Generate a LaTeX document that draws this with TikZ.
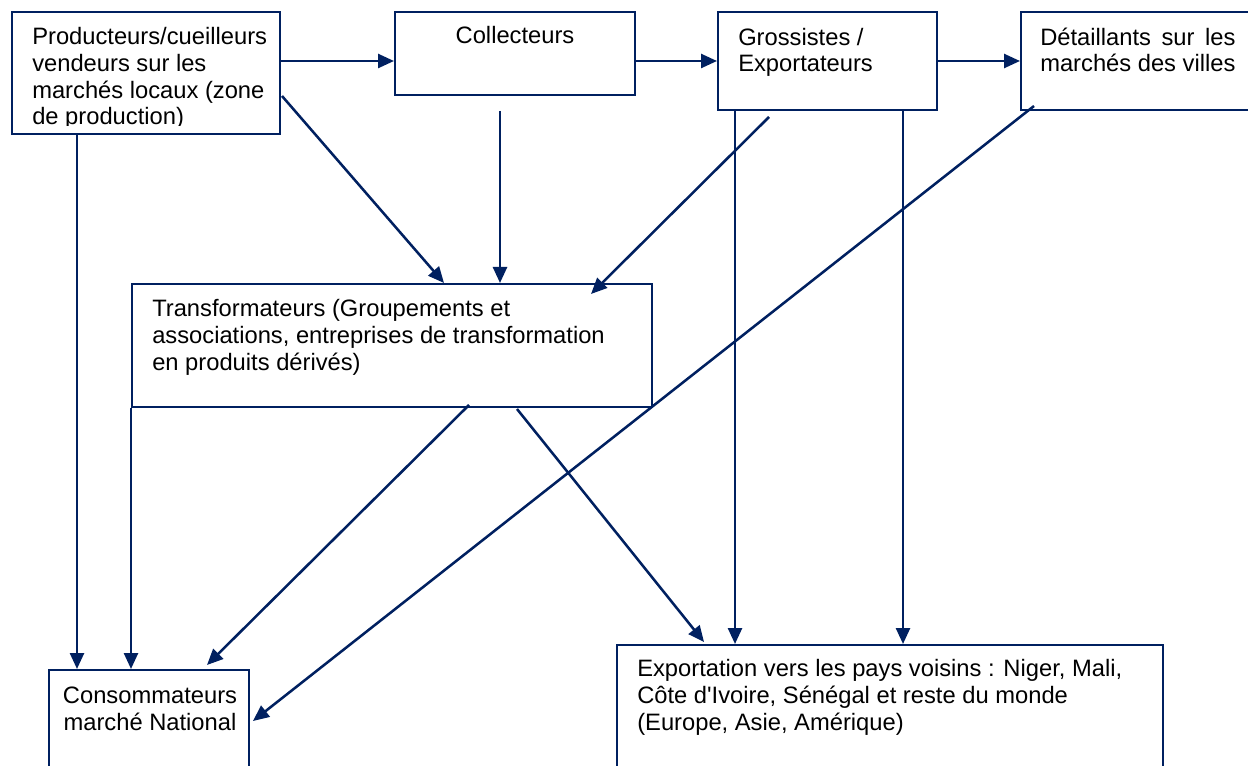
\documentclass[tikz,border=0pt]{standalone}
\usepackage{fontspec}
\setmainfont{Liberation Sans}
\newfontfamily\plainsans{Liberation Sans}
\usepackage{calc}
\usetikzlibrary{arrows.meta,fit,calc}
\definecolor{navy}{RGB}{0,32,96}
\tikzset{
  box/.style={draw=navy, line width=1.5pt, inner sep=0pt},
  lbl/.style={inner sep=0pt, text=black, align=left},
  arr/.style={draw=navy, line width=1.9pt, -{Triangle[length=12pt,width=10.5pt]}}
}
\begin{document}
\begin{tikzpicture}[x=0.75pt,y=-0.75pt,font=\fontsize{17.8}{20}\selectfont]
\useasboundingbox (0,0) rectangle (1248,766);
% boxes
\node[box, fit={(12,12) (280,134)}] (prod) {};
\node[box, fit={(395,12) (635,95)}] (coll) {};
\node[box, fit={(718,12) (937,110)}] (gross) {};
\node[box, fit={(1021,12) (1262,110)}] (det) {};
\node[box, fit={(132,284) (652,407)}] (trans) {};
\node[box, fit={(49,670) (249,790)}] (cons) {};
\node[box, fit={(617,645) (1163,790)}] (export) {};
% texts (base anchor = baseline of last line)
\begin{scope}
\clip (12,12) rectangle (280,126);
\node[lbl, anchor=base west] (prodt) at (32,125) {Producteurs/cueilleurs\\vendeurs sur les\\marchés locaux (zone\\de production)};
\end{scope}
\node[lbl, anchor=base] (collt) at (515,44) {Collecteurs};
\node[lbl, anchor=base west] (grosst) at (738,71.7) {Grossistes /\\Exportateurs};
\node[lbl, anchor=base west] (dett) at (1040,71.7) {\makebox[\widthof{marchés des villes}][s]{Détaillants sur les}\\marchés des villes};
\node[lbl, anchor=base west] (transt) at (152,370) {Transformateurs (Groupements et\\associations, entreprises de transformation\\en produits dérivés)};
\node[lbl, align=center, anchor=base] (const) at (150,730) {Consommateurs\\marché National};
\node[lbl, anchor=base west] (exportt) at (637,730) {Exportation vers les pays voisins : Niger, Mali,\\Côte d{\plainsans '}Ivoire, Sénégal et reste du monde\\(Europe, Asie, Amérique)};
% connectors
\draw[arr] ($(prod.north east)+(0,50)$) -- ($(coll.north west)+(0,50)$);
\draw[arr] ($(coll.north east)+(0,50)$) -- ($(gross.north west)+(0,50)$);
\draw[arr] ($(gross.north east)+(0,50)$) -- ($(det.north west)+(0,50)$);
\draw[arr] ($(prod.south west)+(66,0)$) -- ($(cons.north west)+(29,0)$);
\draw[arr] ($(prod.north east)+(1,85)$) -- ($(trans.north west)+(313,0)$);
\draw[arr] ($(coll.south west)+(106,15)$) -- ($(trans.north west)+(369,0)$);
\draw[arr] ($(gross.south west)+(52,6)$) -- ($(trans.north west)+(460,11)$);
\draw[arr] (trans.south west) -- ($(cons.north west)+(83,0)$);
\draw[arr] ($(trans.south west)+(338,-3)$) -- ($(cons.north west)+(159,-4)$);
\draw[arr] ($(trans.south west)+(386,1)$) -- ($(export.north west)+(88,-2)$);
\draw[arr] ($(gross.south west)+(18,0)$) -- ($(export.north west)+(119,0)$);
\draw[arr] ($(gross.south west)+(186,0)$) -- ($(export.north west)+(287,0)$);
\draw[arr] ($(det.south west)+(14,-5)$) -- ($(cons.north east)+(3,52)$);
\end{tikzpicture}
\end{document}
